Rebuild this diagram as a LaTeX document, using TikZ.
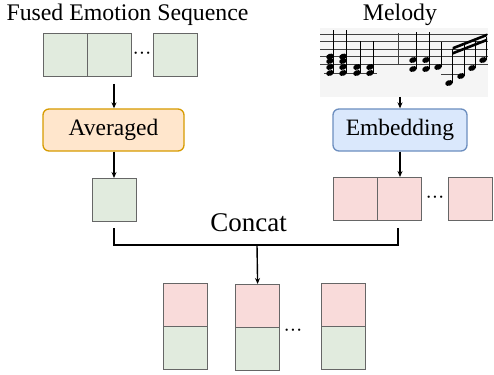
\documentclass[tikz,border=0pt]{standalone}
\usepackage{fontspec}
\setmainfont{Liberation Serif}
\usetikzlibrary{arrows.meta,positioning}
\definecolor{gfill}{HTML}{E1EBDE}
\definecolor{pfill}{HTML}{F9DBDA}
\definecolor{boxline}{HTML}{666666}
\definecolor{ofill}{HTML}{FFE6CC}
\definecolor{oline}{HTML}{D79B00}
\definecolor{bfill}{HTML}{DAE8FC}
\definecolor{bline}{HTML}{6C8EBF}
\definecolor{scorebg}{HTML}{F5F5F5}
\newcommand\nhd[2]{\fill[black] (#1,#2) ellipse [x radius=3.9, y radius=2.8, rotate=20];}
\newcommand\mydots{\textperiodcentered\textperiodcentered\textperiodcentered}
\begin{document}
\begin{tikzpicture}[x=1pt,y=-1pt,
  cell/.style={draw=boxline, line width=1.2pt, minimum width=44, minimum height=43, inner sep=0, anchor=north west},
  gcell/.style={cell, fill=gfill},
  pcell/.style={cell, fill=pfill},
  lbl/.style={font=\fontsize{23.8}{28}\selectfont, inner sep=0},
  opbox/.style={rounded corners=6, line width=1.3pt, minimum width=141, minimum height=42, inner sep=0, font=\fontsize{23.5}{28}\selectfont},
  arr/.style={line width=1.4pt, -{Stealth[length=6pt,width=5pt]}},
  brk/.style={line width=1.8pt},
  dotsn/.style={font=\fontsize{19}{19}\selectfont, inner sep=0},
  staff/.style={line width=0.9pt, draw=black!75},
  stem/.style={line width=0.9pt, draw=black}]
\useasboundingbox (0,0) rectangle (494,374);

% titles
\node[lbl, anchor=base] (t1) at (127.5,21) {Fused Emotion Sequence};
\node[lbl, anchor=base] (t2) at (400,21) {Melody};

% fused emotion sequence
\node[gcell] (g1) at (43,33) {};
\node[gcell] (g2) at (87,33) {};
\node[dotsn] (gd) at (142,56) {\mydots};
\node[gcell] (g3) at (153,33) {};

% averaged
\node[opbox, draw=oline, fill=ofill] (avg) at (113.5,130) {Averaged};
\coordinate (a1) at (114,84);
\draw[arr] (a1) -- (a1 |- avg.north);
\node[gcell] (sg) at (92,178) {};
\draw[arr] (a1 |- avg.south) -- (a1 |- sg.north);

% melody score
\node[fill=scorebg, minimum width=168, minimum height=69, inner sep=0, anchor=north west] (mel) at (320,28) {};
\foreach \yy in {34,41.5,49,56.5,64} \draw[staff] (320,\yy) -- (488,\yy);
\draw[staff] (398,33) -- (398,64);
\draw[staff] (324,73) -- (377,73);
\draw[staff] (441,74) -- (459,74);
% measure 1
\foreach \xx in {330,343} {
  \nhd{\xx}{56.5}\nhd{\xx}{61}\nhd{\xx}{67}\nhd{\xx}{73}
  \draw[stem] (\xx+3.5,73) -- (\xx+3.5,30);
}
\foreach \xx in {357,370} {
  \nhd{\xx}{67}\nhd{\xx}{73}
  \draw[stem] (\xx+3.5,73) -- (\xx+3.5,41);
}
% measure 2
\foreach \xx in {413,426} {
  \nhd{\xx}{60}\nhd{\xx}{69}
  \draw[stem] (\xx+3.5,69) -- (\xx+3.5,32);
}
\nhd{438}{67}\draw[stem] (441.5,67) -- (441.5,42);
\nhd{449}{83}\draw[stem] (452.5,83) -- (452.5,49);
\nhd{461}{76}\draw[stem] (464.5,76) -- (464.5,45);
\nhd{472}{68}\draw[stem] (475.5,68) -- (475.5,41);
\nhd{483}{60}\draw[stem] (486.5,60) -- (486.5,37);
\fill[black] (452.5,47) -- (487,33.5) -- (487,36.3) -- (452.5,49.8) -- cycle;
\fill[black] (452.5,52) -- (487,38.5) -- (487,41.3) -- (452.5,54.8) -- cycle;

% embedding
\node[opbox, draw=bline, fill=bfill, minimum width=134] (emb) at (400,130) {Embedding};
\coordinate (m1) at (400,97);
\draw[arr] (m1) -- (m1 |- emb.north);
\node[pcell] (p1) at (333,177) {};
\node[pcell] (p2) at (377,177) {};
\node[dotsn] (pd) at (435,200) {\mydots};
\node[pcell] (p3) at (448,177) {};
\draw[arr] (m1 |- emb.south) -- (m1 |- p1.north);

% concat
\node[font=\fontsize{27}{31}\selectfont, inner sep=0, anchor=base] (cc) at (248.5,231) {Concat};
\coordinate (c1) at (114,228);
\coordinate (c2) at (398,228);
\coordinate (c3) at (257,245);
\draw[brk] (c1) |- (c3) -| (c2);

% concatenated pairs
\node[pcell] (q1) at (163,283) {};
\node[gcell] (r1) at (163,326) {};
\node[pcell] (q2) at (235,284) {};
\node[gcell] (r2) at (235,327) {};
\node[dotsn] (qd) at (293,333) {\mydots};
\node[pcell] (q3) at (321,283) {};
\node[gcell] (r3) at (321,326) {};
\draw[arr] (c3) -- (q2.north);
\end{tikzpicture}
\end{document}
